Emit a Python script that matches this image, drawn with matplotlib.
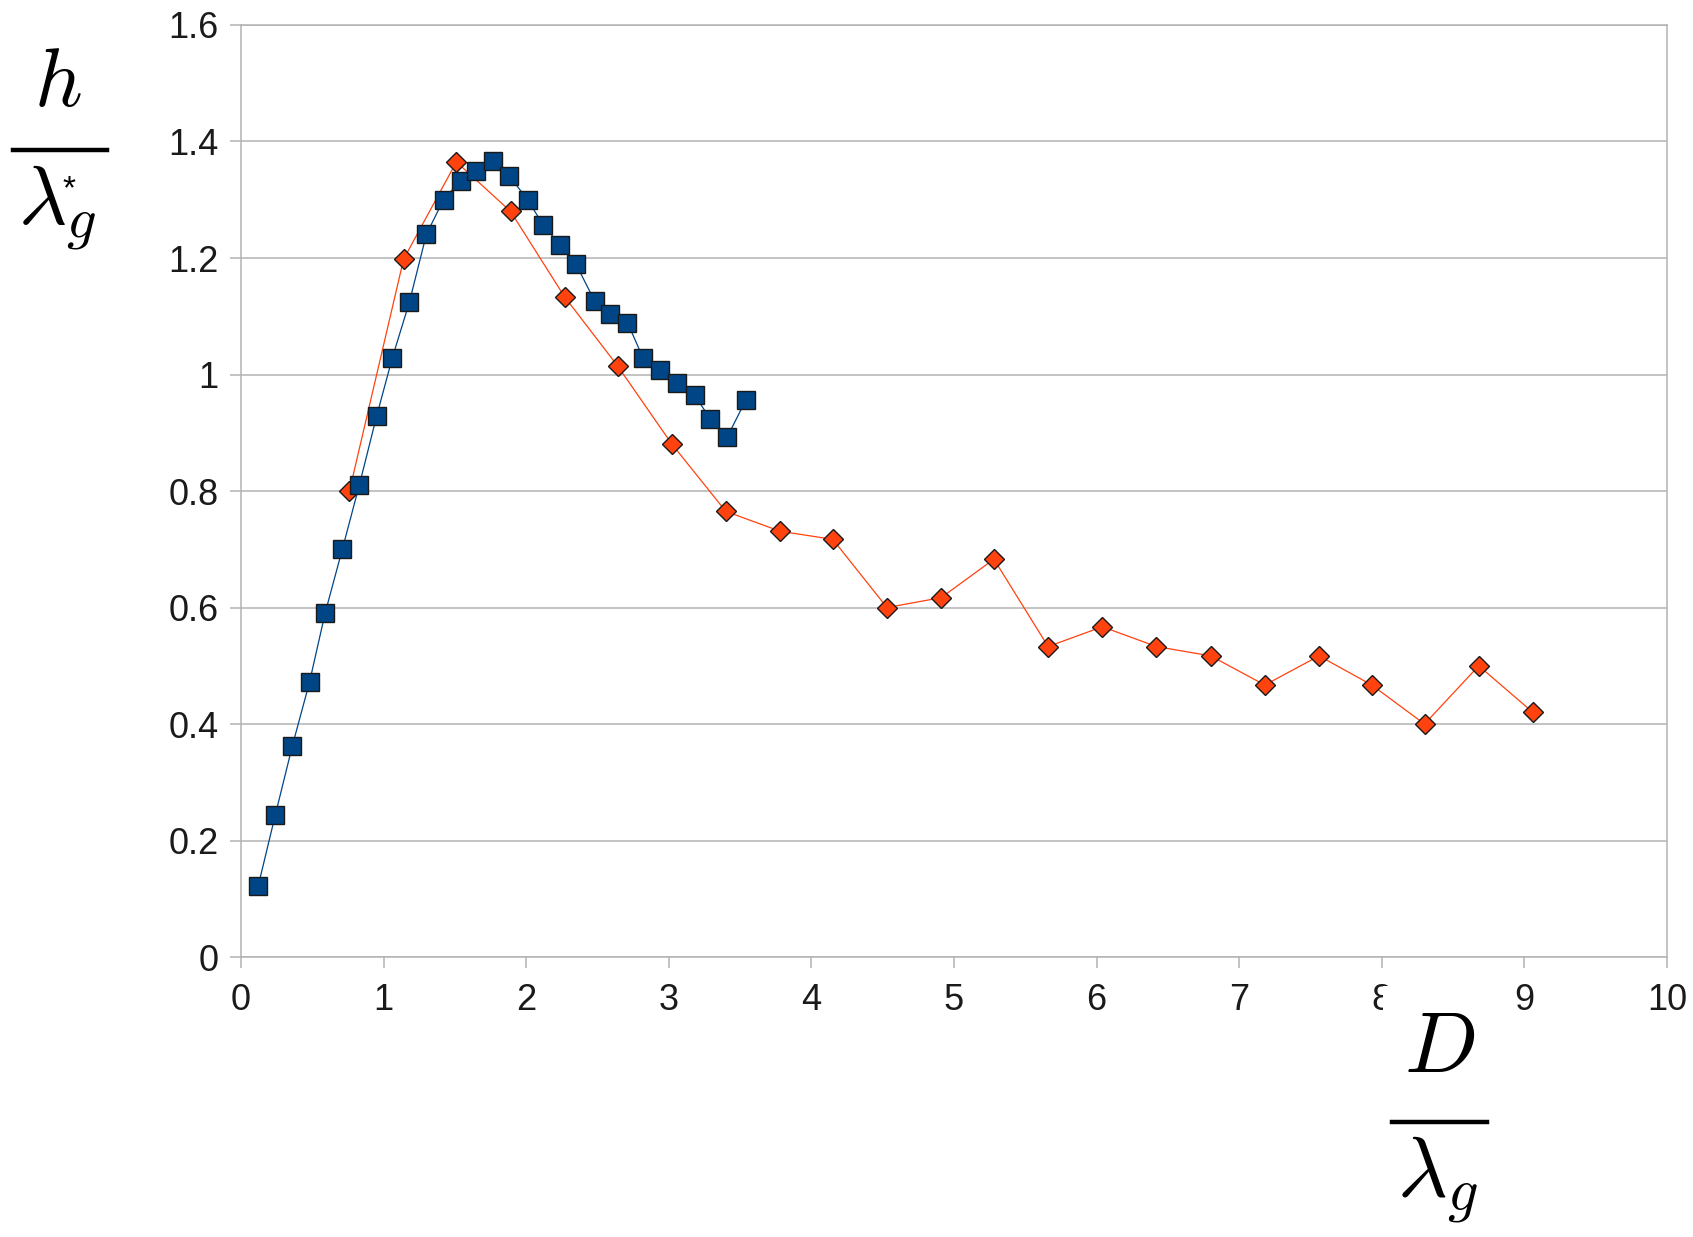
import matplotlib
matplotlib.use("Agg")
import matplotlib.pyplot as plt
from matplotlib.lines import Line2D
from matplotlib.patches import Rectangle

plt.rcParams['mathtext.fontset'] = 'cm'
plt.rcParams['font.family'] = ['Liberation Sans', 'DejaVu Sans']

# blue squares (measured series)
blue_x = [0.12, 0.24, 0.36, 0.48, 0.59, 0.71, 0.83, 0.95, 1.06, 1.18,
          1.30, 1.42, 1.54, 1.65, 1.77, 1.88, 2.01, 2.12, 2.24, 2.35,
          2.48, 2.59, 2.71, 2.82, 2.94, 3.06, 3.18, 3.29, 3.41, 3.54]
blue_y = [0.122, 0.244, 0.363, 0.472, 0.591, 0.700, 0.811, 0.928, 1.028, 1.124,
          1.241, 1.300, 1.333, 1.350, 1.367, 1.341, 1.300, 1.256, 1.222, 1.189,
          1.126, 1.104, 1.089, 1.028, 1.007, 0.985, 0.965, 0.924, 0.893, 0.956]

# red diamonds
red_x = [0.76, 1.14, 1.51, 1.89, 2.27, 2.64, 3.02, 3.40, 3.78, 4.15,
         4.53, 4.91, 5.28, 5.66, 6.04, 6.42, 6.80, 7.18, 7.56, 7.93,
         8.30, 8.68, 9.06]
red_y = [0.800, 1.198, 1.365, 1.280, 1.133, 1.015, 0.881, 0.765, 0.731, 0.717,
         0.600, 0.617, 0.683, 0.533, 0.567, 0.533, 0.517, 0.467, 0.517, 0.467,
         0.400, 0.500, 0.420]

y_ticks = [0, 0.2, 0.4, 0.6, 0.8, 1, 1.2, 1.4, 1.6]
y_tick_labels = ['0', '0.2', '0.4', '0.6', '0.8', '1', '1.2', '1.4', '1.6']
x_ticks = list(range(0, 11))

grid_color = '#b3b3b3'
W, H = 1693, 1237


def fx(px):
    return px / W


def fy(py):
    return 1 - py / H


fig = plt.figure(figsize=(16.93, 12.37), dpi=100)
ax = fig.add_axes([0.1424, 0.2263, 0.8422, 0.7535])

ax.plot(red_x, red_y, color='#ff420e', lw=0.9, marker='D', ms=10,
        markerfacecolor='#ff420e', markeredgecolor='#1a1a1a', markeredgewidth=1.0, zorder=3)
ax.plot(blue_x, blue_y, color='#004586', lw=0.9, marker='s', ms=12.5,
        markerfacecolor='#004586', markeredgecolor='#1a1a1a', markeredgewidth=1.0, zorder=4)

ax.set_xlim(0, 10)
ax.set_ylim(0, 1.6)
ax.set_yticks(y_ticks)
ax.set_yticklabels(y_tick_labels)
ax.set_xticks(x_ticks)
ax.grid(axis='y', color=grid_color, lw=1.1, zorder=0)
ax.set_axisbelow(True)
for s in ax.spines.values():
    s.set_color(grid_color)
    s.set_linewidth(1.1)
ax.tick_params(axis='both', colors=grid_color, labelcolor='#1a1a1a', labelsize=26,
               length=8, width=1.1, direction='out')
ax.tick_params(axis='x', pad=11)
ax.tick_params(axis='y', pad=8)

# y label: h / lambda_g^*
fig.text(fx(58), fy(84), r'$h$', fontsize=60, ha='center', va='center')
fig.add_artist(Line2D([fx(13), fx(107)], [fy(150), fy(150)], color='black', lw=3.2))
fig.text(fx(57), fy(207), r'$\lambda_g$', fontsize=60, ha='center', va='center')
fig.text(fx(69), fy(190), '*', fontsize=24, ha='center', va='center')

# x label: D / lambda_g, on a white patch that hides part of the "8"
fig.add_artist(Rectangle((fx(1383), 0), fx(1500) - fx(1383), fy(986),
                         facecolor='white', edgecolor='none', zorder=2))
fig.text(fx(1440), fy(1050), r'$D$', fontsize=62, ha='center', va='center', zorder=3)
fig.add_artist(Line2D([fx(1392), fx(1487)], [fy(1122), fy(1122)], color='black', lw=3.2,
                      zorder=3))
fig.text(fx(1437), fy(1180), r'$\lambda_g$', fontsize=62, ha='center', va='center', zorder=3)

fig.savefig('out.png', dpi=100, facecolor='white')
